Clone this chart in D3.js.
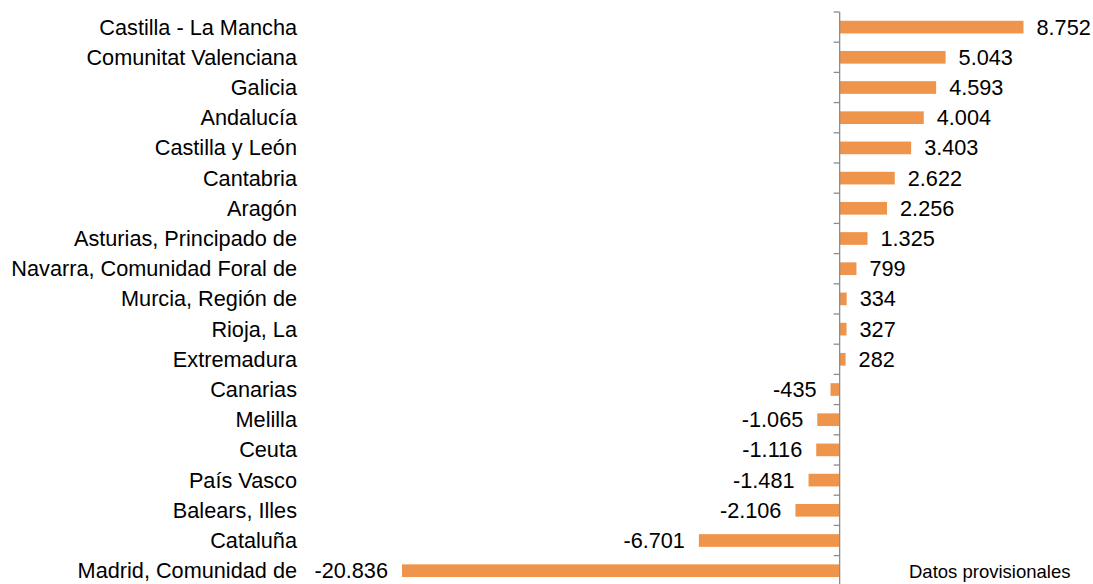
<!DOCTYPE html>
<html>
<head>
<meta charset="utf-8">
<script src="https://cdn.jsdelivr.net/npm/d3@7"></script>
<style>
  body { margin: 0; background: #fff; }
  text { font-family: "Liberation Sans", Arial, sans-serif; fill: #000; }
</style>
</head>
<body>
<svg width="1093" height="584"></svg>
<script>
var regions = [
    "Castilla - La Mancha", "Comunitat Valenciana", "Galicia", "Andalucía",
    "Castilla y León", "Cantabria", "Aragón", "Asturias, Principado de",
    "Navarra, Comunidad Foral de", "Murcia, Región de", "Rioja, La",
    "Extremadura", "Canarias", "Melilla", "Ceuta", "País Vasco",
    "Balears, Illes", "Cataluña", "Madrid, Comunidad de"
];
var values = [8752, 5043, 4593, 4004, 3403, 2622, 2256, 1325, 799, 334, 327,
    282, -435, -1065, -1116, -1481, -2106, -6701, -20836];

var note = "Datos provisionales";

var svg = d3.select("svg");
var fmt = d3.formatLocale({decimal: ",", thousands: ".", grouping: [3], currency: ["", "€"], minus: "-"}).format(",d");

var x = d3.scaleLinear().domain([-20836, 8752]).range([402, 1023.5]);
var y = d3.scaleBand().domain(regions).range([12, 12 + 19 * 30.2]).paddingInner(0.58).paddingOuter(0.29);
var ticks = d3.scaleBand().domain(regions).range([12, 12 + 19 * 30.2]);

// bars
svg.selectAll(".bar")
    .data(values)
    .enter().append("rect")
    .attr("class", "bar")
    .attr("x", function(d) { return Math.min(x(0), x(d)); })
    .attr("y", function(d, i) { return y(regions[i]); })
    .attr("width", function(d) { return Math.abs(x(d) - x(0)); })
    .attr("height", y.bandwidth())
    .attr("fill", "#ef944b");

// axis line with tick marks at band boundaries
var axis = svg.append("g").attr("stroke", "#8c8c8c").attr("stroke-width", 1.3);
axis.append("line")
    .attr("x1", x(0)).attr("x2", x(0))
    .attr("y1", 12).attr("y2", 584);
axis.selectAll(".tick")
    .data(regions)
    .enter().append("line")
    .attr("x1", x(0) - 6).attr("x2", x(0))
    .attr("y1", function(d) { return ticks(d); })
    .attr("y2", function(d) { return ticks(d); });

// category labels
svg.selectAll(".cat")
    .data(regions)
    .enter().append("text")
    .attr("x", 297)
    .attr("y", function(d) { return ticks(d) + ticks.bandwidth() / 2; })
    .attr("dy", "0.35em")
    .attr("text-anchor", "end")
    .style("font-size", "21.7px")
    .text(function(d) { return d; });

// value labels
svg.selectAll(".val")
    .data(values)
    .enter().append("text")
    .attr("x", function(d) { return d >= 0 ? x(d) + 13 : x(d) - 14; })
    .attr("y", function(d, i) { return ticks(regions[i]) + ticks.bandwidth() / 2; })
    .attr("dy", "0.35em")
    .attr("text-anchor", function(d) { return d >= 0 ? "start" : "end"; })
    .style("font-size", "21.7px")
    .text(function(d) { return fmt(d); });

svg.append("text")
    .attr("x", 909)
    .attr("y", 578)
    .style("font-size", "18.5px")
    .text(note);
</script>
</body>
</html>
